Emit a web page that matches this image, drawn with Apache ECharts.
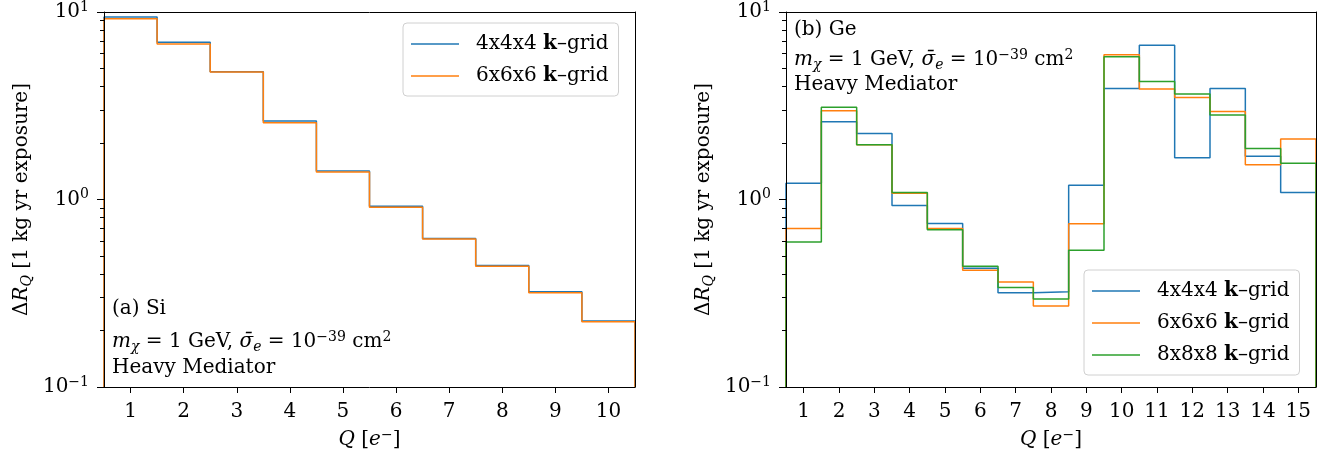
<!DOCTYPE html>
<html><head><meta charset="utf-8">
<script src="https://cdn.jsdelivr.net/npm/echarts@6/dist/echarts.min.js"></script>
<style>html,body{margin:0;padding:0;background:#fff}#c{width:1337px;height:466px}</style>
</head><body><div id="c"></div>
<script>
// ---- data ----
const siBins = [1,2,3,4,5,6,7,8,9,10];
const si444 = [9.4, 6.9, 4.8, 2.62, 1.42, 0.92, 0.62, 0.445, 0.322, 0.225];
const si666 = [9.2, 6.75, 4.78, 2.57, 1.40, 0.91, 0.615, 0.44, 0.318, 0.223];
const geBins = [1,2,3,4,5,6,7,8,9,10,11,12,13,14,15];
const ge444 = [1.22, 2.6, 2.25, 0.93, 0.745, 0.43, 0.318, 0.322, 1.19, 3.91, 6.65, 1.67, 3.91, 1.70, 1.09];
const ge666 = [0.70, 2.97, 1.96, 1.08, 0.70, 0.42, 0.363, 0.27, 0.743, 5.91, 3.89, 3.5, 2.95, 1.53, 2.10];
const ge888 = [0.593, 3.1, 1.96, 1.09, 0.69, 0.44, 0.339, 0.295, 0.537, 5.77, 4.26, 3.65, 2.82, 1.87, 1.56];
const yMajor = [0.1, 1, 10];
const yMinor = [0.2,0.3,0.4,0.5,0.6,0.7,0.8,0.9,2,3,4,5,6,7,8,9];
const names = ['4x4x4 k–grid', '6x6x6 k–grid', '8x8x8 k–grid'];
const colors = ['#1f77b4', '#ff7f0e', '#2ca02c'];
const yMin = 0.1, yMax = 10;

const FONT = 'DejaVu Serif';
const FS = 20, SS = 14, LH = 24;

function stepData(bins, vals) {
  const pts = [[bins[0] - 0.5, yMin]];
  for (let i = 0; i < bins.length; i++) pts.push([bins[i] - 0.5, vals[i]]);
  const last = bins[bins.length - 1] + 0.5;
  pts.push([last, vals[vals.length - 1]]);
  pts.push([last, yMin]);
  return pts;
}
const rich = {
  n: {fontFamily: FONT, fontSize: FS, lineHeight: LH, color: '#000'},
  s: {fontFamily: FONT, fontSize: SS, lineHeight: SS, verticalAlign: 'top', color: '#000'},
  b: {fontFamily: FONT, fontSize: FS, lineHeight: LH, fontWeight: 'bold', color: '#000'},
  i: {fontFamily: FONT, fontSize: FS, lineHeight: LH, fontStyle: 'italic', color: '#000'},
  sub: {fontFamily: FONT, fontSize: SS, lineHeight: SS, fontStyle: 'italic', verticalAlign: 'bottom', color: '#000'}
};
function yLabel(v) {
  const e = Math.round(Math.log10(v));
  return '{n|10}{s|' + (e < 0 ? '−' + (-e) : e) + '}';
}
function legendFmt(name) {
  const p = name.split(' k');
  return '{n|' + p[0] + ' }{b|k}{n|' + p[1] + '}';
}

const grids = [
  {left: 104, top: 11, width: 531, height: 376},
  {left: 786, top: 11, width: 530, height: 376}
];
const xAxes = [], yAxes = [];
[siBins, geBins].forEach((bins, gi) => {
  xAxes.push({
    type: 'value', gridIndex: gi, min: 0.5, max: bins[bins.length-1] + 0.5, z: 5,
    splitLine: {show: false},
    axisLine: {onZero: false, lineStyle: {color: '#000', width: 1}},
    axisTick: {length: 6, lineStyle: {color: '#000'}, customValues: bins},
    axisLabel: {color: '#000', fontFamily: FONT, fontSize: FS, lineHeight: LH, margin: 13, customValues: bins},
    name: '{i|Q}{n| [}{i|e}{s|−}{n|]}', nameLocation: 'middle', nameGap: 41, nameMoveOverlap: false,
    nameTextStyle: {rich: rich, fontFamily: FONT, fontSize: FS}
  });
  yAxes.push({
    type: 'log', logBase: 10, gridIndex: gi, min: yMin, max: yMax, z: 5,
    splitLine: {show: false},
    axisLine: {onZero: false, lineStyle: {color: '#000', width: 1}},
    axisTick: {length: 7, lineStyle: {color: '#000'}, customValues: yMajor},
    axisLabel: {color: '#000', margin: 15, customValues: yMajor, formatter: yLabel, rich: rich},
    name: '{n|Δ}{i|R}{sub|Q}{n| [1 kg yr exposure]}', nameLocation: 'middle', nameGap: 70, nameMoveOverlap: false,
    nameTextStyle: {rich: rich, fontFamily: FONT, fontSize: FS}
  });
});
// minor tick axes + right/top spines
[0, 1].forEach(gi => {
  yAxes.push({
    type: 'log', logBase: 10, gridIndex: gi, min: yMin, max: yMax, position: 'left', z: 5,
    splitLine: {show: false}, axisLine: {show: false, onZero: false},
    axisTick: {show: true, length: 4, lineStyle: {color: '#000', width: 1}, customValues: yMinor},
    axisLabel: {show: false}
  });
  yAxes.push({
    type: 'log', logBase: 10, gridIndex: gi, min: yMin, max: yMax, position: 'right', z: 5,
    splitLine: {show: false}, axisLine: {show: true, onZero: false, lineStyle: {color: '#000', width: 1}},
    axisTick: {show: false}, axisLabel: {show: false}
  });
  xAxes.push({
    type: 'value', gridIndex: gi, min: 0, max: 1, position: 'top', z: 5,
    splitLine: {show: false}, axisLine: {show: true, onZero: false, lineStyle: {color: '#000', width: 1}},
    axisTick: {show: false}, axisLabel: {show: false}
  });
});

const series = [];
[si444, si666].forEach((vals, k) => series.push({
  name: names[k], type: 'line', xAxisIndex: 0, yAxisIndex: 0, step: 'end',
  data: stepData(siBins, vals), symbol: 'none', clip: true,
  lineStyle: {color: colors[k], width: 1.5}, itemStyle: {color: colors[k]}
}));
[ge444, ge666, ge888].forEach((vals, k) => series.push({
  name: names[k], type: 'line', xAxisIndex: 1, yAxisIndex: 1, step: 'end',
  data: stepData(geBins, vals), symbol: 'none', clip: true,
  lineStyle: {color: colors[k], width: 1.5}, itemStyle: {color: colors[k]}
}));

const legendBase = {
  orient: 'vertical', icon: 'rect', itemWidth: 48, itemHeight: 1.6, itemGap: 12,
  backgroundColor: 'rgba(255,255,255,0.8)', borderColor: '#d0d0d0', borderWidth: 1, borderRadius: 4,
  padding: [11, 10, 10, 8], selectedMode: false, formatter: legendFmt, z: 10,
  textStyle: {rich: rich, color: '#000', padding: [0, 0, 0, 12]}
};

function annot(x, tops, lines) {
  return lines.map((t, j) => ({
    type: 'text', left: x, top: tops[j], z: 10,
    style: {text: t, rich: rich, fill: '#000', font: FS + 'px ' + FONT}
  }));
}
const mathLine = '{i|m}{sub|χ}{n| = 1 GeV, }{i|σ̄}{sub|e}{n| = 10}{s|−39}{n| cm}{s|2}';

const option = {
  animation: false,
  backgroundColor: '#fff',
  grid: grids,
  xAxis: xAxes,
  yAxis: yAxes,
  legend: [
    Object.assign({}, legendBase, {data: names.slice(0, 2), left: 403, top: 23}),
    Object.assign({}, legendBase, {data: names.slice(0, 3), left: 1084, top: 270})
  ],
  series: series,
  graphic: [].concat(
    annot(112, [299, 330, 358], ['{n|(a) Si}', mathLine, '{n|Heavy Mediator}']),
    annot(794, [20, 48, 75], ['{n|(b) Ge}', mathLine, '{n|Heavy Mediator}'])
  )
};
const chart = echarts.init(document.getElementById('c'));
chart.setOption(option);
</script>
</body></html>
